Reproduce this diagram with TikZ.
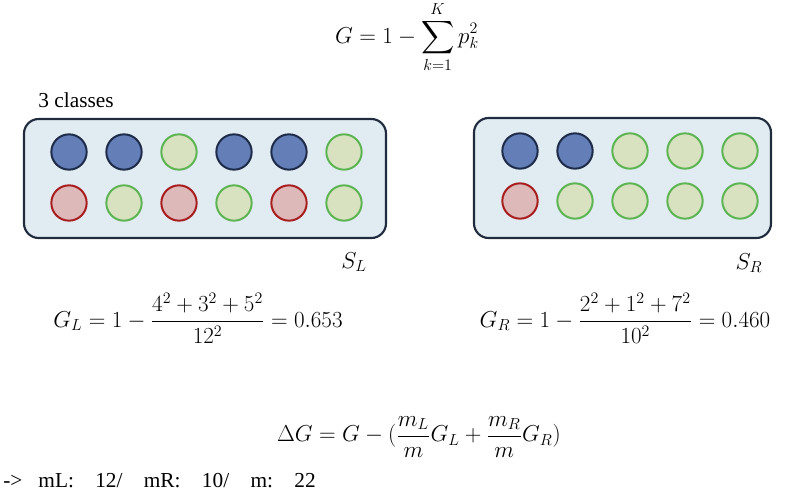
\documentclass[tikz,border=0pt]{standalone}
\usepackage{exscale}
\usepackage[no-math]{fontspec}
\setmainfont{Liberation Serif}
\usetikzlibrary{positioning}
\definecolor{bagfill}{RGB}{225,235,242}
\definecolor{bagline}{RGB}{32,44,62}
\definecolor{bluefill}{RGB}{100,126,184}
\definecolor{blueline}{RGB}{30,44,74}
\definecolor{greenfill}{RGB}{216,226,192}
\definecolor{greenline}{RGB}{92,180,82}
\definecolor{redfill}{RGB}{221,185,185}
\definecolor{redline}{RGB}{168,30,30}
\tikzstyle{bag} = [rectangle, draw=bagline, fill=bagfill, line width=1.6pt, rounded corners=11pt]
\tikzstyle{ball} = [circle, line width=1.5pt, minimum size=26.5pt, inner sep=0pt]
\tikzstyle{cblue} = [ball, draw=blueline, fill=bluefill]
\tikzstyle{cgreen} = [ball, draw=greenline, fill=greenfill]
\tikzstyle{cred} = [ball, draw=redline, fill=redfill]
\tikzstyle{formula} = [font=\fontsize{17}{20}\selectfont]
\tikzstyle{plain} = [font=\fontsize{16}{19}\selectfont]

\begin{document}
\begin{tikzpicture}[x=0.75pt, y=-0.75pt, node distance=41.25pt]
    \useasboundingbox (0,0) rectangle (789,495);
    % Place bags
    \node [bag, minimum width=271.5pt, minimum height=89.25pt] (setL) at (205,178.5) {};
    \node [bag, minimum width=222.75pt, minimum height=90pt] (setR) at (622.5,178) {};
    % Place balls of S_L
    \node [cblue] (la1) at (69,152) {};
    \node [cblue, right of=la1] (la2) {};
    \node [cgreen, right of=la2] (la3) {};
    \node [cblue, right of=la3] (la4) {};
    \node [cblue, right of=la4] (la5) {};
    \node [cgreen, right of=la5] (la6) {};
    \node [cred, below of=la1, node distance=38.25pt] (lb1) {};
    \node [cgreen, right of=lb1] (lb2) {};
    \node [cred, right of=lb2] (lb3) {};
    \node [cgreen, right of=lb3] (lb4) {};
    \node [cred, right of=lb4] (lb5) {};
    \node [cgreen, right of=lb5] (lb6) {};
    % Place balls of S_R
    \node [cblue] (ra1) at (520,151) {};
    \node [cblue, right of=ra1] (ra2) {};
    \node [cgreen, right of=ra2] (ra3) {};
    \node [cgreen, right of=ra3] (ra4) {};
    \node [cgreen, right of=ra4] (ra5) {};
    \node [cred, below of=ra1, node distance=37.5pt] (rb1) {};
    \node [cgreen, right of=rb1] (rb2) {};
    \node [cgreen, right of=rb2] (rb3) {};
    \node [cgreen, right of=rb3] (rb4) {};
    \node [cgreen, right of=rb4] (rb5) {};
    % Place labels
    \node [plain] (classes) at (76,100) {3 classes};
    \node [formula] (labL) at (354,262) {$S_L$};
    \node [formula] (labR) at (749,263) {$S_R$};
    % Place formulas
    \node [formula] (gini) at (407,37) {$\displaystyle G = 1 - \sum_{k=1}^{K} p_k^2$};
    \node [formula] (giniL) at (198,318) {$\displaystyle G_L = 1 - \frac{4^2 + 3^2 + 5^2}{12^2} = 0.653$};
    \node [formula] (giniR) at (625,318) {$\displaystyle G_R = 1 - \frac{2^2 + 1^2 + 7^2}{10^2} = 0.460$};
    \node [formula, font=\fontsize{16.5}{20}\selectfont] (gain) at (419,437) {$\displaystyle \Delta G = G - (\frac{m_L}{m} G_L + \frac{m_R}{m} G_R)$};
    \node [plain, anchor=west, inner sep=0pt] (note) at (3,481) {-{}>\hspace{0.75em}mL:\hspace{1em}12/\hspace{1em}mR:\hspace{1em}10/\hspace{1em}m:\hspace{1em}22};
\end{tikzpicture}
\end{document}
